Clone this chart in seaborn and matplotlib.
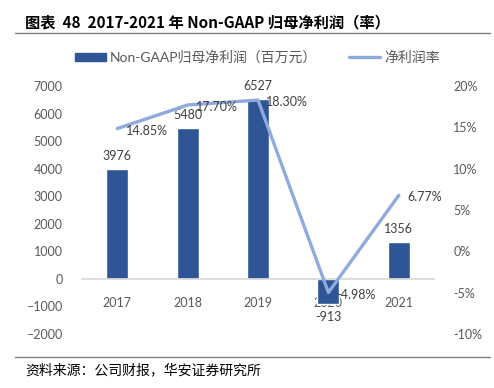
import matplotlib
matplotlib.use("Agg")
import matplotlib.pyplot as plt
import seaborn as sns
import pandas as pd
import numpy as np
from matplotlib.lines import Line2D
from matplotlib.patches import Patch

years = ["2017", "2018", "2019", "2020", "2021"]
profit = [3976, 5480, 6527, -913, 1356]
margin = [14.85, 17.70, 18.30, -4.98, 6.77]
left_ticks = [-2000, -1000, 0, 1000, 2000, 3000, 4000, 5000, 6000, 7000]
right_ticks = [-10, -5, 0, 5, 10, 15, 20]

title = "图表  48  2017-2021 年 Non-GAAP 归母净利润（率）"
bar_name = "Non-GAAP归母净利润（百万元）"
line_name = "净利润率"
source = "资料来源：公司财报，华安证券研究所"

sns.set_theme(style="white")
plt.rcParams['font.family'] = ['Lato', 'Noto Sans CJK SC', 'DejaVu Sans']

BAR = "#2F5597"
LINE = "#8FAADC"
GRAY = "#595959"

fig = plt.figure(figsize=(4.94, 3.88), dpi=100)
W, H = 494, 388
ax = fig.add_axes([82 / W, (H - 334) / H, 352 / W, 248 / H])

df = pd.DataFrame({"year": years, "profit": profit, "margin": margin})
sns.barplot(data=df, x="year", y="profit", color=BAR, width=0.31, saturation=1, ax=ax)
ax.set_ylim(-2000, 7000)
ax.set_yticks(left_ticks)
ax.set_xlim(-0.5, 4.5)
ax.set_xlabel("")
ax.set_ylabel("")
for s in ["top", "right", "left"]:
    ax.spines[s].set_visible(False)
ax.spines["bottom"].set_position(("data", 0))
ax.spines["bottom"].set_color("#D9D9D9")
ax.tick_params(axis="x", length=0, pad=13, labelsize=9, colors=GRAY)
ax.tick_params(axis="y", length=0, pad=14, labelsize=9, colors=GRAY)

for i, v in enumerate(profit):
    if v >= 0:
        ax.annotate(str(v), (i, v), xytext=(0, 5), textcoords="offset points",
                    ha="center", va="bottom", fontsize=9, color="#404040")
    else:
        ax.annotate(str(v), (i, v), xytext=(0, -5), textcoords="offset points",
                    ha="center", va="top", fontsize=9, color="#404040")

ax2 = ax.twinx()
sns.lineplot(x=list(range(len(years))), y=margin, color=LINE, linewidth=2.4, ax=ax2)
ax2.set_ylim(-10, 20)
ax2.set_yticks(right_ticks)
ax2.set_yticklabels([f"{t}%" for t in right_ticks])
ax2.set_xlim(-0.5, 4.5)
for s in ["top", "right", "left", "bottom"]:
    ax2.spines[s].set_visible(False)
ax2.tick_params(axis="y", length=0, pad=14, labelsize=9, colors=GRAY)

for i, v in enumerate(margin):
    ax2.annotate(f"{v:.2f}%", (i, v), xytext=(6, -1.5), textcoords="offset points",
                 ha="left", va="center", fontsize=9, color="#404040")

# legend
handles = [Patch(facecolor=BAR, edgecolor=BAR),
           Line2D([0], [0], color=LINE, linewidth=2.4)]
leg = fig.legend(handles, [bar_name, line_name], loc="center", bbox_to_anchor=(0.521, (H - 57) / H),
                 ncol=2, frameon=False, fontsize=10, handlelength=2.2, handleheight=0.45,
                 columnspacing=2.3, handletextpad=0.3)
for t in leg.get_texts():
    t.set_color(GRAY)

# title and source
fig.text(25 / W, (H - 22) / H, title, fontsize=11, fontweight="bold", ha="left", va="center",
         family=['Noto Sans CJK SC', 'DejaVu Sans'], color="#000000")
fig.add_artist(Line2D([15 / W, 490 / W], [(H - 33) / H] * 2, color="#808080", linewidth=1))
fig.add_artist(Line2D([15 / W, 490 / W], [(H - 357) / H] * 2, color="#808080", linewidth=1))
fig.text(25 / W, (H - 370) / H, source, fontsize=10, ha="left", va="center",
         family=['Noto Sans CJK SC', 'DejaVu Sans'], color="#000000")

fig.savefig("out.png", dpi=100)
